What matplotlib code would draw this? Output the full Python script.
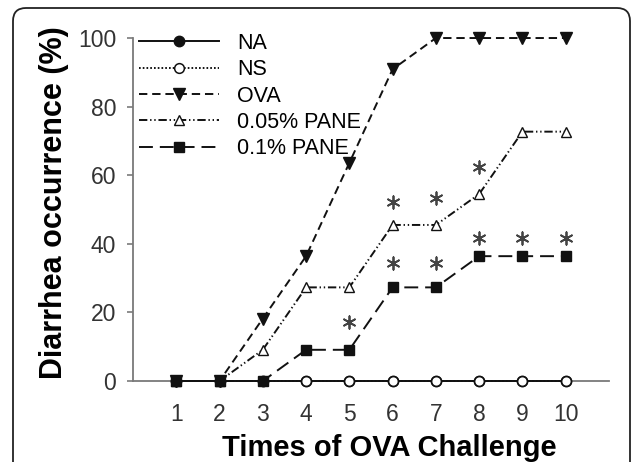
import matplotlib
matplotlib.use("Agg")
import matplotlib.pyplot as plt
from matplotlib.patches import FancyBboxPatch

plt.rcParams["font.family"] = ["Liberation Sans", "DejaVu Sans"]
plt.rcParams["lines.scale_dashes"] = False

# data
challenge = [1, 2, 3, 4, 5, 6, 7, 8, 9, 10]
na = [0, 0, 0, 0, 0, 0, 0, 0, 0, 0]
ns = [0, 0, 0, 0, 0, 0, 0, 0, 0, 0]
ova = [0, 0, 18.2, 36.4, 63.6, 90.9, 100, 100, 100, 100]
pane_005 = [0, 0, 9.1, 27.3, 27.3, 45.5, 45.5, 54.5, 72.7, 72.7]
pane_01 = [0, 0, 0, 9.1, 9.1, 27.3, 27.3, 36.4, 36.4, 36.4]

# significance marks (x, y)
star_005_x = [6, 7, 8]
star_005_y = [52.2, 53.4, 62.4]
star_01_x = [5, 6, 7, 8, 9, 10]
star_01_y = [17.2, 34.4, 34.4, 41.7, 41.7, 41.7]

ink = "#111111"
axis_grey = "#7a7a7a"

fig = plt.figure(figsize=(6.32, 4.62), dpi=100)
ax = fig.add_axes([0.2104, 0.1753, 0.7532, 0.7424])

common = dict(color=ink, lw=1.4, clip_on=False)
ax.plot(challenge, na, ls="-", marker="o", ms=7.5, mfc=ink, mec=ink,
        label="NA", zorder=3, **common)
ax.plot(challenge, ns, ls=(0, (1.2, 1.5)), marker="o", ms=7, mfc="white",
        mec=ink, mew=1.1, label="NS", zorder=4, **common)
ax.plot(challenge, ova, ls=(0, (6, 3.5)), marker="v", ms=8, mfc=ink,
        mec=ink, label="OVA", zorder=5, **common)
ax.plot(challenge, pane_005, ls=(0, (6, 2, 1, 2, 1, 2)), marker="^", ms=7.5,
        mfc="white", mec=ink, mew=1.0, label="0.05% PANE", zorder=5, **common)
ax.plot(challenge, pane_01, ls=(0, (10, 5)), marker="s", ms=7, mfc=ink,
        mec=ink, label="0.1% PANE", zorder=6, **common)

star = dict(marker=(6, 2, 0), s=80, color="#444444", lw=1.3, clip_on=False, zorder=7)
ax.scatter(star_005_x, star_005_y, **star)
ax.scatter(star_01_x, star_01_y, **star)

ax.set_xlim(0, 11)
ax.set_ylim(0, 100)
ax.set_xticks(challenge)
ax.set_yticks([0, 20, 40, 60, 80, 100])
ax.tick_params(axis="x", length=0, pad=16, labelsize=16.5, labelcolor="#333333")
ax.tick_params(axis="y", length=4, width=1.2, color=axis_grey, pad=8,
               labelsize=16.5, labelcolor="#333333")
for side in ("top", "right"):
    ax.spines[side].set_visible(False)
for side in ("left", "bottom"):
    ax.spines[side].set_color(axis_grey)
    ax.spines[side].set_linewidth(1.3)

ax.set_ylabel("Diarrhea occurrence (%)", fontsize=22, fontweight="bold")
ax.yaxis.set_label_coords(-0.135, 0.52)
ax.set_xlabel("Times of OVA Challenge", fontsize=21, fontweight="bold")
ax.xaxis.set_label_coords(0.538, -0.155)

ax.legend(loc="upper left", bbox_to_anchor=(0.012, 1.015), frameon=False,
          fontsize=15.5, handlelength=3.72, handletextpad=0.84, labelspacing=0.25,
          borderpad=0, borderaxespad=0)

# rounded outer frame
frame = FancyBboxPatch((0.13, -0.3), 6.17, 4.84, boxstyle="round,pad=0,rounding_size=0.13",
                       transform=fig.dpi_scale_trans, fill=False, ec="#222222", lw=1.3)
fig.patches.append(frame)

fig.savefig("out.png", dpi=100)
